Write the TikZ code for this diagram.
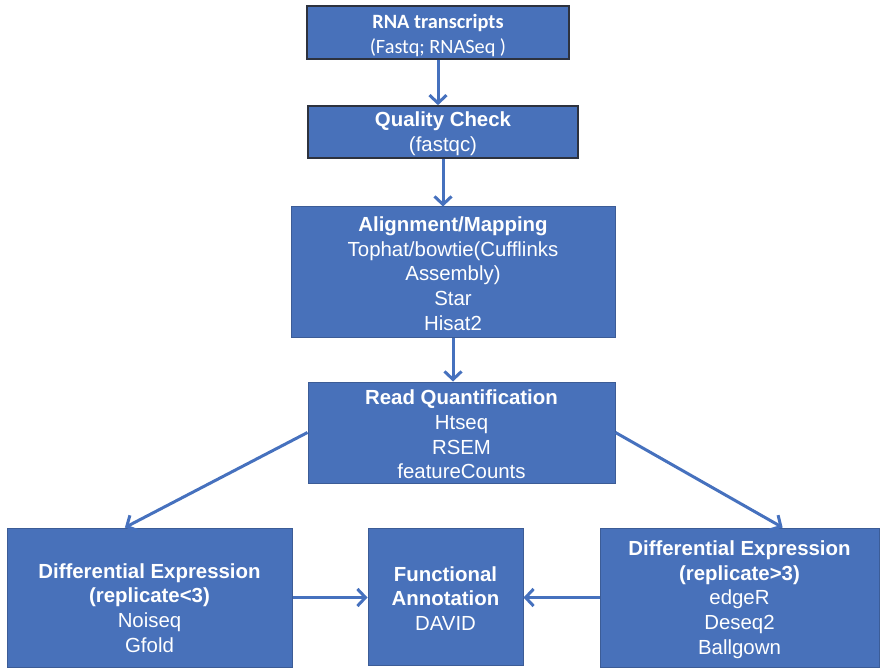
\documentclass[tikz,border=0pt]{standalone}
\usepackage{fontspec}
\setmainfont{Liberation Sans}
\newfontfamily\calfont{Carlito}
\usetikzlibrary{arrows.meta,calc}
\definecolor{boxblue}{RGB}{72,113,186}
\definecolor{boxedge}{RGB}{60,92,150}
\definecolor{darkedge}{RGB}{45,50,62}
\definecolor{arrowblue}{RGB}{70,113,190}
\tikzset{
  box/.style={draw=boxedge, line width=1pt, fill=boxblue, inner sep=0pt},
  darkbox/.style={box, draw=darkedge, line width=1.6pt},
  txt/.style={text=white, align=center, inner sep=0pt, font=\fontsize{20.4}{24.7}\selectfont},
  flow/.style={draw=arrowblue, line width=3pt, -{Straight Barb[length=8pt,width=17pt]}}
}
\begin{document}
\begin{tikzpicture}[x=1pt,y=-1pt]
\useasboundingbox (0,0) rectangle (880,668);
\node[darkbox, minimum width=262pt, minimum height=53pt] (b1) at (438,32.5) {};
\node[txt, font=\calfont\fontsize{20.3}{25}\selectfont] (t1) at ($(b1.center)+(0,3)$)
  {\textbf{RNA transcripts}\\(Fastq; RNASeq )};
\node[darkbox, minimum width=270pt, minimum height=52pt] (b2) at (443,132) {};
\node[txt] (t2) at ($(b2.center)+(0,2)$) {\textbf{Quality Check}\\(fastqc)};
\node[box, minimum width=324pt, minimum height=130pt] (b3) at (453,272) {};
\node[txt] (t3) at ($(b3.center)+(0,1.5)$)
  {\textbf{Alignment/Mapping}\\Tophat/bowtie(Cufflinks\\Assembly)\\Star\\Hisat2};
\node[box, minimum width=307pt, minimum height=101pt] (b4) at (461.5,432.5) {};
\node[txt] (t4) at ($(b4.center)+(0,2)$)
  {\textbf{Read Quantification}\\Htseq\\RSEM\\featureCounts};
\node[box, minimum width=285pt, minimum height=139pt] (b5) at (149.5,597.5) {};
\node[txt] (t5) at ($(b5.center)+(0,10.5)$)
  {\textbf{Differential Expression}\\\textbf{(replicate<3)}\\Noiseq\\Gfold};
\node[box, minimum width=155pt, minimum height=137pt] (b6) at (445.5,596.5) {};
\node[txt] (t6) at ($(b6.center)+(0,2)$)
  {\textbf{Functional}\\\textbf{Annotation}\\DAVID};
\node[box, minimum width=279pt, minimum height=139pt] (b7) at (739.5,597.5) {};
\node[txt] (t7) at ($(b7.center)+(0,2)$)
  {\textbf{Differential Expression}\\\textbf{(replicate>3)}\\edgeR\\Deseq2\\Ballgown};
\draw[flow] (b1.south) -- (b1.south |- b2.north);
\draw[flow] (b2.south) -- (b2.south |- b3.north);
\draw[flow] (b3.south) -- (b3.south |- b4.north);
\draw[flow] (b4.west) -- ($(b5.north west)!0.414!(b5.north east)$);
\draw[flow] (b4.east) -- ($(b7.north west)!0.654!(b7.north east)$);
\draw[flow] (b5.east) -- (b5.east -| b6.west);
\draw[flow] (b7.west) -- (b7.west -| b6.east);
\end{tikzpicture}
\end{document}
